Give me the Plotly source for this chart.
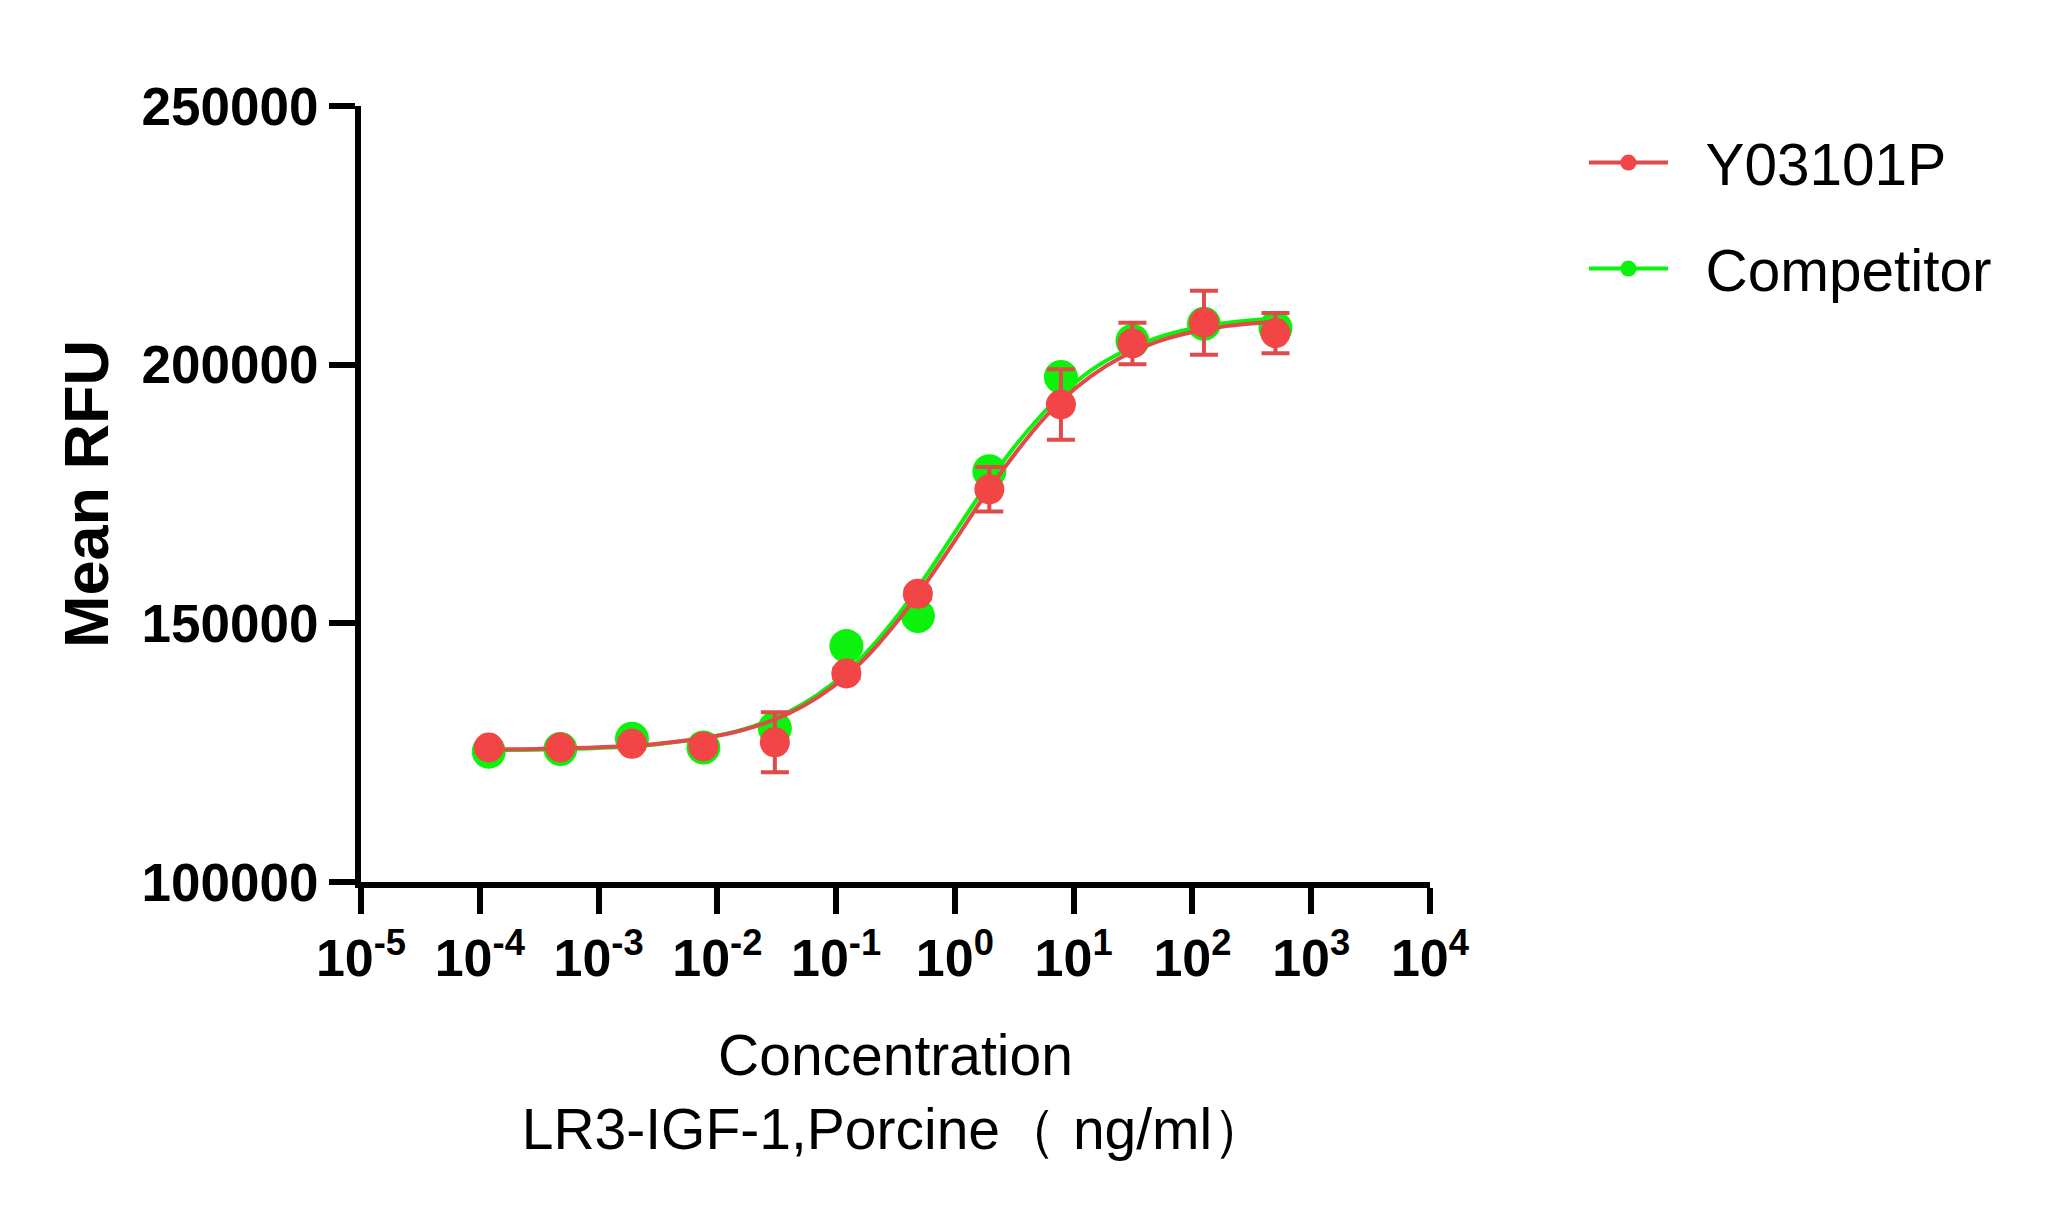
import plotly.graph_objs as go

# concentrations (ng/ml), 4-fold dilution series
conc = [0.000119, 0.000477, 0.00191, 0.00763, 0.0305, 0.122,
        0.488, 1.95, 7.81, 31.25, 125, 500]

# measured points
y_red = [126000, 126000, 126700, 126200, 127000, 140300,
         155700, 175900, 192300, 204100, 208100, 206100]
err_red = [800, 700, 900, 800, 5800, 900,
           900, 4300, 6800, 4000, 6200, 3900]
y_green = [125200, 125700, 127700, 126000, 129700, 145600,
           151400, 179400, 197600, 204600, 207900, 207100]

# fitted curves
curve_x = [0.00012, 0.0003, 0.001, 0.003, 0.01, 0.02, 0.04, 0.07, 0.12,
           0.2, 0.35, 0.6, 1, 1.7, 3, 5, 8, 14, 25, 50, 100, 200, 500]
curve_red = [125620, 125730, 126040, 126680, 128260, 129950, 132600,
             135700, 139700, 144600, 151200, 158500, 166000, 174000,
             181900, 188300, 193200, 197800, 201400, 204400, 206300,
             207500, 208300]
curve_green = [125450, 125580, 125900, 126600, 128300, 130100, 132900,
               136200, 140400, 145500, 152300, 159900, 167600, 175500,
               183400, 189500, 194300, 198900, 202300, 205200, 207000,
               208100, 208900]

xtick_vals = [1e-5, 1e-4, 1e-3, 1e-2, 1e-1, 1, 10, 100, 1000, 10000]
xtick_text = ['10<sup>-5</sup>', '10<sup>-4</sup>', '10<sup>-3</sup>',
              '10<sup>-2</sup>', '10<sup>-1</sup>', '10<sup>0</sup>',
              '10<sup>1</sup>', '10<sup>2</sup>', '10<sup>3</sup>',
              '10<sup>4</sup>']
ytick_vals = [100000, 150000, 200000, 250000]
ytick_text = ['100000', '150000', '200000', '250000']

RED = '#F24545'
RED_LINE = '#E04A4A'
GREEN = '#0DF20D'
FONT = 'Liberation Sans, Arial, sans-serif'
PAD = '\u00a0\u00a0'  # gap between legend line and label

fig = go.Figure()

# green below red
fig.add_trace(go.Scatter(x=curve_x, y=curve_green, mode='lines',
                         line=dict(color=GREEN, width=4, shape='spline'),
                         showlegend=False, hoverinfo='skip'))
fig.add_trace(go.Scatter(x=conc, y=y_green, mode='markers',
                         marker=dict(color=GREEN, size=34),
                         showlegend=False))
fig.add_trace(go.Scatter(x=curve_x, y=curve_red, mode='lines',
                         line=dict(color=RED_LINE, width=4, shape='spline'),
                         showlegend=False, hoverinfo='skip'))
fig.add_trace(go.Scatter(x=conc, y=y_red, mode='markers',
                         marker=dict(color=RED, size=30),
                         error_y=dict(type='data', array=err_red,
                                      color=RED_LINE, thickness=4, width=14),
                         showlegend=False))

# legend entries
fig.add_trace(go.Scatter(x=[None], y=[None], mode='lines+markers',
                         name=PAD + 'Y03101P', legendrank=1, legendgroup='a',
                         line=dict(color=RED_LINE, width=4),
                         marker=dict(color=RED, size=30)))
fig.add_trace(go.Scatter(x=[None], y=[None], mode='lines+markers',
                         name=PAD + 'Competitor', legendrank=2, legendgroup='b',
                         line=dict(color=GREEN, width=4),
                         marker=dict(color=GREEN, size=34)))

fig.update_layout(
    width=2048, height=1221, autosize=False,
    margin=dict(l=353, r=626, t=98, b=347),
    plot_bgcolor='white', paper_bgcolor='white',
    font=dict(family=FONT, color='black'),
    legend=dict(x=1.144, y=0.9845, xanchor='left', yanchor='top',
                font=dict(size=58.5, family=FONT), tracegroupgap=27,
                itemwidth=79, itemsizing='trace', bgcolor='rgba(0,0,0,0)'),
    xaxis=dict(
        type='log', range=[-5, 4],
        tickvals=xtick_vals, ticktext=xtick_text,
        tickfont=dict(size=52, family=FONT, weight='bold'),
        ticks='outside', ticklen=26, tickwidth=6, tickcolor='black',
        showline=True, linewidth=6, linecolor='black',
        showgrid=False, zeroline=False,
        title=dict(text='Concentration<br>LR3-IGF-1,Porcine（ ng/ml）',
                   font=dict(size=57, family=FONT), standoff=51),
    ),
    yaxis=dict(
        range=[100000, 250000],
        tickvals=ytick_vals, ticktext=ytick_text,
        tickfont=dict(size=53, family=FONT, weight='bold'),
        ticks='outside', ticklen=26, tickwidth=6, tickcolor='black',
        showline=True, linewidth=6, linecolor='black',
        showgrid=False, zeroline=False,
        title=dict(text='Mean RFU', font=dict(size=63, family=FONT, weight='bold'),
                   standoff=14),
    ),
)

fig.write_html("out.html")
